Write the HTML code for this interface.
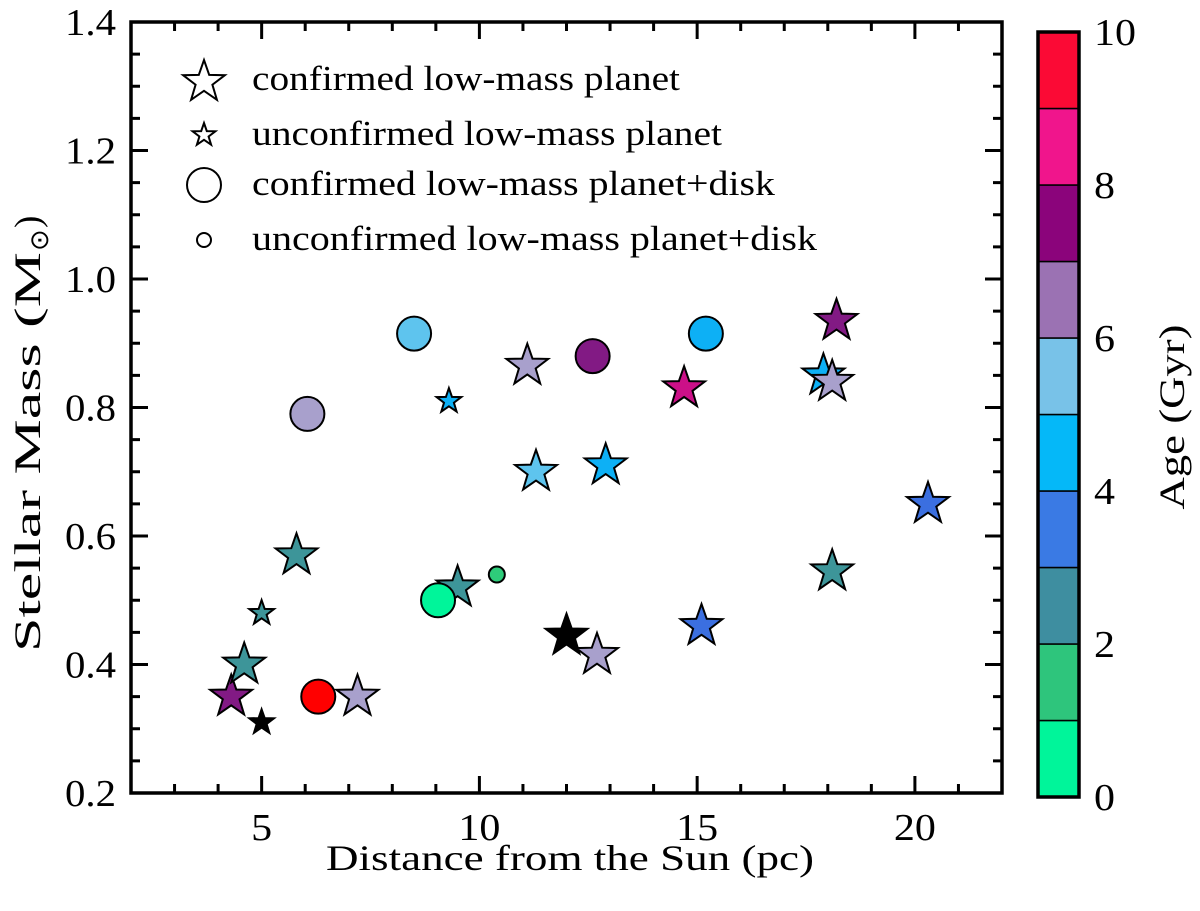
<!DOCTYPE html>
<html><head><meta charset="utf-8"><style>
html,body{margin:0;padding:0;background:#fff;}
svg{display:block;font-family:"Liberation Serif",serif;}
</style></head><body>
<svg id="chart" width="1200" height="911" xmlns="http://www.w3.org/2000/svg">
<g id="marks"></g>
<g id="axes"></g>
<g id="legend"></g>
<g id="cbar"></g>
</svg>
<script>
// ---- data ----
const distances = [4.3, 4.6, 5.8, 7.2, 9.5, 11.1, 11.3, 12.0, 12.7, 12.9, 14.7, 15.1, 17.9, 18.1, 18.2, 18.1, 20.3, 5.0, 5.0, 9.3, 6.05, 8.5, 9.05, 12.6, 6.3, 15.2, 10.4];
const masses = [0.35, 0.40, 0.57, 0.35, 0.52, 0.865, 0.70, 0.445, 0.415, 0.71, 0.83, 0.46, 0.85, 0.84, 0.935, 0.545, 0.65, 0.48, 0.31, 0.81, 0.79, 0.915, 0.50, 0.88, 0.35, 0.915, 0.54];
const ages = [7.5, 2.5, 2.5, 6.5, 2.5, 6.5, 5.5, null, 6.5, 4.5, 8.5, 3.5, 4.5, 6.5, 7.5, 2.5, 3.5, 2.5, null, 4.5, 6.5, 5.5, 0.5, 7.5, 9.5, 4.5, 1.5];
const kinds = ["cs","cs","cs","cs","cs","cs","cs","cs","cs","cs","cs","cs","cs","cs","cs","cs","cs","us","us","us","cc","cc","cc","cc","cc","cc","uc"];
const xTicks = [5, 10, 15, 20];
const yTicks = [0.2, 0.4, 0.6, 0.8, 1.0, 1.2, 1.4];
const cbTicks = [0, 2, 4, 6, 8, 10];
const cbColors = ["#00f59a","#2ec57c","#3e8ea0","#3a7ae4","#05b8f8","#78c2e8","#9b72b3","#8b047b","#f0158c","#fb0a35"];
const markerColors = ["#00f59a","#2ecc7a","#3d9599","#3b6fe0","#0db0f5","#5ec4ee","#a8a0cc","#821a84","#cc1088","#ff0000"];
const legendLabels = ["confirmed low-mass planet","unconfirmed low-mass planet","confirmed low-mass planet+disk","unconfirmed low-mass planet+disk"];

const NS="http://www.w3.org/2000/svg";
const X0=131,X1=1002,Y0=793,Y1=22, XMIN=2,XMAX=22,YMIN=0.2,YMAX=1.4;
const sx=v=>X0+(v-XMIN)/(XMAX-XMIN)*(X1-X0);
const sy=v=>Y0-(v-YMIN)/(YMAX-YMIN)*(Y0-Y1);
const CB_X=1038,CB_W=41,CB_T=32,CB_B=797;
const cy=v=>CB_B-v/10*(CB_B-CB_T);
function mk(tag,attrs,parent){const e=document.createElementNS(NS,tag);for(const k in attrs)e.setAttribute(k,attrs[k]);parent.appendChild(e);return e;}
function starPts(cx,cyy,R){const r=R*0.4;let p=[];for(let i=0;i<10;i++){const a=-Math.PI/2+i*Math.PI/5;const rr=i%2?r:R;p.push((cx+rr*Math.cos(a)).toFixed(1)+","+(cyy+rr*Math.sin(a)).toFixed(1));}return p.join(" ");}
const ageColor=a=>a===null?"#000":markerColors[Math.min(9,Math.floor(a))];

const marks=document.getElementById('marks');
distances.forEach((d,i)=>{
  const px=sx(d),py=sy(masses[i]),k=kinds[i],fill=ageColor(ages[i]);
  let el;
  if(k==="cs"||k==="us"){el=mk('polygon',{points:starPts(px,py,k==="cs"?22:13),fill:fill,stroke:"#000","stroke-width":2,"stroke-linejoin":"miter"},marks);}
  else{el=mk('circle',{cx:px,cy:py,r:k==="cc"?17:8,fill:fill,stroke:"#000","stroke-width":2},marks);}
  
  
});

const axes=document.getElementById('axes');
const frame=mk('rect',{x:X0,y:Y1,width:X1-X0,height:Y0-Y1,fill:"none",stroke:"#000","stroke-width":3.5},axes);


for(let v=XMIN+1;v<XMAX;v++){
  const major=xTicks.includes(v),L=major?17:9,x=sx(v);
  const t1=mk('line',{x1:x,y1:Y0,x2:x,y2:Y0-L,stroke:"#000","stroke-width":3},axes);
  
  
  const t2=mk('line',{x1:x,y1:Y1,x2:x,y2:Y1+L,stroke:"#000","stroke-width":3},axes);
  
  
}
xTicks.forEach(v=>{const t=mk('text',{x:sx(v),y:840,"text-anchor":"middle","font-size":38,textLength:String(v).length*21,lengthAdjust:"spacingAndGlyphs"},axes);t.textContent=v;
  
  });
for(let i=1;i<24;i++){
  const v=YMIN+i*0.05,major=i%4===0,L=major?17:9,y=sy(v);
  const t1=mk('line',{x1:X0,y1:y,x2:X0+L,y2:y,stroke:"#000","stroke-width":3},axes);
  
  
  const t2=mk('line',{x1:X1,y1:y,x2:X1-L,y2:y,stroke:"#000","stroke-width":3},axes);
  
  
}
yTicks.forEach(v=>{const t=mk('text',{x:116,y:sy(v)+13,"text-anchor":"end","font-size":38,textLength:51,lengthAdjust:"spacingAndGlyphs"},axes);t.textContent=v.toFixed(1);
  
  });
const xt=mk('text',{x:570,y:870,"text-anchor":"middle","font-size":36,textLength:488,lengthAdjust:"spacingAndGlyphs"},axes);
xt.textContent="Distance from the Sun (pc)";


const ytg=mk('g',{transform:"translate(40,412) rotate(-90)"},axes);


const yt1=mk('text',{x:-240,y:0,"font-size":37,textLength:400,lengthAdjust:"spacingAndGlyphs"},ytg);
yt1.textContent="Stellar Mass (M";


const yt2=mk('text',{x:161,y:8,"font-size":26},ytg);
yt2.textContent="⊙";


const yt3=mk('text',{x:184,y:0,"font-size":37},ytg);
yt3.textContent=")";



const lg=document.getElementById('legend');
const rowsY=[80,135,185,240];
legendLabels.forEach((s,i)=>{
  let m;
  if(i<2)m=mk('polygon',{points:starPts(204,rowsY[i]+(i===0?2:0),i===0?22:12),fill:"#fff",stroke:"#000","stroke-width":2},lg);
  else m=mk('circle',{cx:204,cy:rowsY[i],r:i===2?17:7,fill:"#fff",stroke:"#000","stroke-width":2},lg);
  
  
  const t=mk('text',{x:252,y:rowsY[i]+10,"font-size":35,textLength:[428,470,523,565][i],lengthAdjust:"spacingAndGlyphs"},lg);
  t.textContent=s;
  
  
});

const cb=document.getElementById('cbar');
cbColors.forEach((c,i)=>{const r=mk('rect',{x:CB_X,y:cy(i+1),width:CB_W,height:cy(i)-cy(i+1),fill:c,stroke:"#000","stroke-width":1.5},cb);
  
  });
const cbf=mk('rect',{x:CB_X,y:CB_T,width:CB_W,height:CB_B-CB_T,fill:"none",stroke:"#000","stroke-width":3.5},cb);


cbTicks.forEach(v=>{const t=mk('text',{x:1094,y:cy(v)+13,"font-size":38,textLength:String(v).length*21,lengthAdjust:"spacingAndGlyphs"},cb);t.textContent=v;
  
  });
const ct=mk('text',{x:0,y:0,"text-anchor":"middle","font-size":36,transform:"translate(1184,417) rotate(-90)",textLength:185,lengthAdjust:"spacingAndGlyphs"},cb);
ct.textContent="Age (Gyr)";


</script>
</body></html>
